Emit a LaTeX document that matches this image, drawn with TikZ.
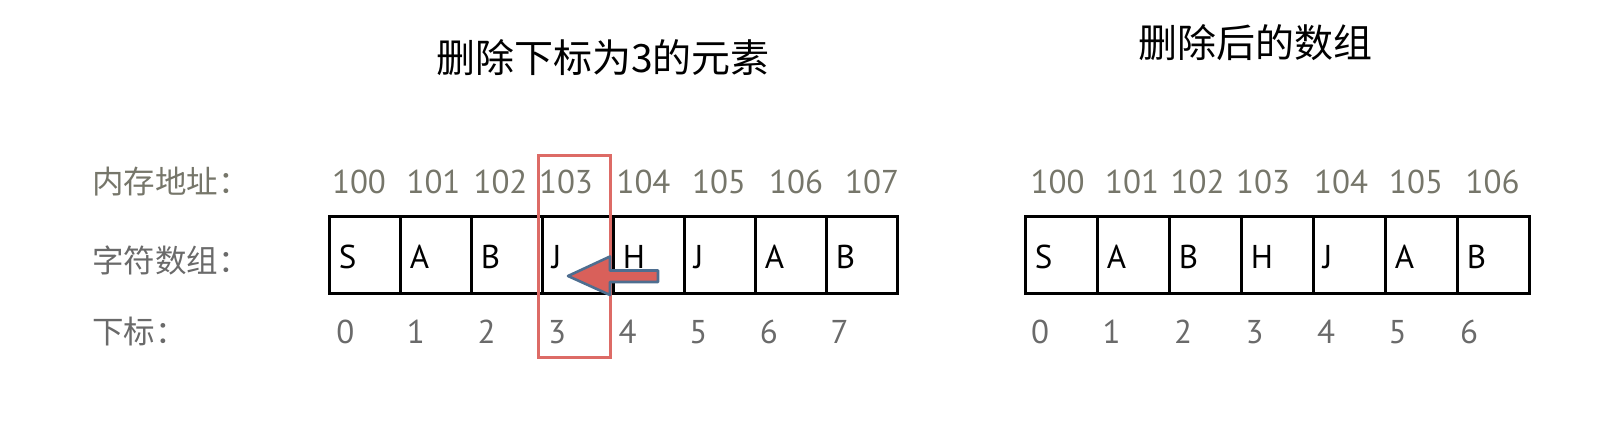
\documentclass[tikz,border=0pt]{standalone}
\usepackage{fontspec}
\setmainfont{PT Sans}
\newfontfamily\cjk{Noto Sans CJK SC}
\usetikzlibrary{positioning}

\definecolor{addrgray}{HTML}{76766A}
\definecolor{idxgray}{HTML}{6A6A6A}
\definecolor{hlred}{HTML}{DD6B66}
\definecolor{arrfill}{HTML}{D9605A}
\definecolor{arredge}{HTML}{4E6E90}

\begin{document}
\begin{tikzpicture}[x=0.5pt,y=-0.5pt,
  cell/.style={draw,line width=1.5pt,minimum height=38.5pt,inner sep=0pt},
  letter/.style={anchor=west,inner sep=0pt,font=\fontsize{16.5}{18}\selectfont},
  addrtxt/.style={inner sep=0pt,text=addrgray,font=\fontsize{16.5}{18}\selectfont},
  idxtxt/.style={inner sep=0pt,text=idxgray,font=\fontsize{16.5}{18}\selectfont},
  rowlbl/.style={anchor=west,inner sep=0pt,text=idxgray,font=\cjk\fontsize{15.75}{17}\selectfont},
  heading/.style={inner sep=0pt,font=\cjk\fontsize{19.5}{21}\selectfont}]
\useasboundingbox (0,0) rectangle (1602,422);

% titles and row names
\node[heading] (t1) at (603,58) {删除下标为3的元素};
\node[heading] (t2) at (1255,43) {删除后的数组};
\node[rowlbl,text=addrgray] (h1) at (92,182) {内存地址：};
\node[rowlbl] (h2) at (92,260) {字符数组：};
\node[rowlbl] (h3) at (92,332) {下标：};

% before: eight cells
\foreach \ch/\ax [count=\i from 0] in {S/359,A/433.5,B/500.5,J/566,H/643.5,J/719,A/796,B/872} {
  \pgfmathtruncatemacro\adr{100+\i}
  \node[cell,minimum width=35.5pt] (l\i) at (364.5+71*\i,255.5) {};
  \node[letter] (ls\i) at ([xshift=5.5pt,yshift=-0.7pt]l\i.west) {\ch};
  \node[addrtxt] (la\i) at (\ax,182) {\adr};
  \node[idxtxt] (li\i) at (345.3+70.6*\i,332) {\i};
}

% after: seven cells
\foreach \ch/\ax [count=\i from 0] in {S/1057.5,A/1132,B/1197.5,H/1263,J/1341,A/1416,B/1492.5} {
  \pgfmathtruncatemacro\adr{100+\i}
  \node[cell,minimum width=36pt] (r\i) at (1061+72*\i,255.5) {};
  \node[letter] (rs\i) at ([xshift=5.5pt,yshift=-0.7pt]r\i.west) {\ch};
  \node[addrtxt] (ra\i) at (\ax,182) {\adr};
  \node[idxtxt] (ri\i) at (1040+71.5*\i,332) {\i};
}

% removed element and shift
\node[draw=hlred,line width=1.5pt,minimum width=36pt,minimum height=101pt,inner sep=0pt] (sel) at (574.5,257) {};
\draw[line width=1.3pt,draw=arredge,fill=arrfill,line join=round]
  (658,270.5)--(610,270.5)--(610,256.5)--(568,276)--(610,295)--(610,282)--(658,282)--cycle;
\end{tikzpicture}
\end{document}
